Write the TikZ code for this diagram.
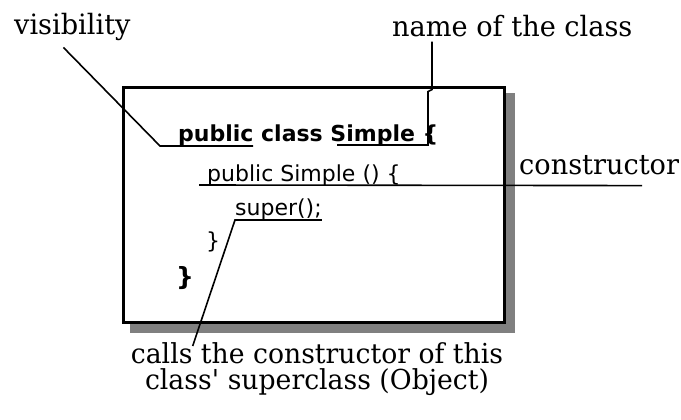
\documentclass[tikz,border=0pt]{standalone}
\usepackage{fontspec}
\setmainfont[FakeStretch=0.97]{DejaVu Serif}
\newfontfamily\codefont{DejaVu Sans}
\usetikzlibrary{calc}

\begin{document}
\begin{tikzpicture}[x=1pt,y=-1pt,
  note/.style={inner sep=0,anchor=base west,font=\fontsize{28}{25}\selectfont},
  code/.style={inner sep=0,anchor=base west,font=\codefont\fontsize{22}{22}\selectfont},
  codebold/.style={code,font=\codefont\bfseries\fontsize{22}{22}\selectfont},
  leader/.style={line width=1.6pt}]
  \useasboundingbox (0,0) rectangle (681,420);

  % class box and its shadow
  \fill[gray] (130,93) rectangle (515,333);
  \node[draw,line width=3pt,fill=white,inner sep=0,
        minimum width=381pt,minimum height=234pt] (box) at (314,205) {};

  % code
  \node[codebold] (cls) at (178,142) {public class Simple \{};
  \node[code] (cons) at (207,181) {public Simple () \{};
  \node[code] (sup) at (235,215) {super();};
  \node[code] (inner) at (206,248) {\}};
  \node[codebold,font=\codefont\bfseries\fontsize{25}{25}\selectfont] (outer) at (176,285) {\}};

  % labels
  \node[note] (vis) at (14,35) {visibility};
  \node[note] (name) at (392,37) {name of the class};
  \node[note] (ctor) at (519,175) {constructor};
  \node[note,anchor=north,align=center,font=\fontsize{27.5}{26}\selectfont] (calls) at (317,342)
    {calls the constructor of this\\class\textquotesingle{} superclass (Object)};

  % leaders
  \coordinate (pubL) at (160,146);
  \coordinate (pubR) at (253,146);
  \draw[leader] ($(vis.south)+(-9,6)$) -- (pubL) -- (pubR);
  \coordinate (simL) at (337,145);
  \coordinate (simR) at (428,145);
  \draw[leader] ($(name.south west)+(40,4)$) -- ++(0,48) -- ++(-4,2) -- (simR) -- (simL);
  \coordinate (consL) at ($(cons.base west)+(-8,4)$);
  \draw[leader] ($(ctor.south west)+(123,10)$) -- (consL);
  \coordinate (supL) at ($(sup.base west)+(0,5)$);
  \coordinate (supR) at ($(sup.base east)+(0,5)$);
  \draw[leader] (supR) -- (supL) -- ($(calls.north west)+(62,4)$);
\end{tikzpicture}
\end{document}
